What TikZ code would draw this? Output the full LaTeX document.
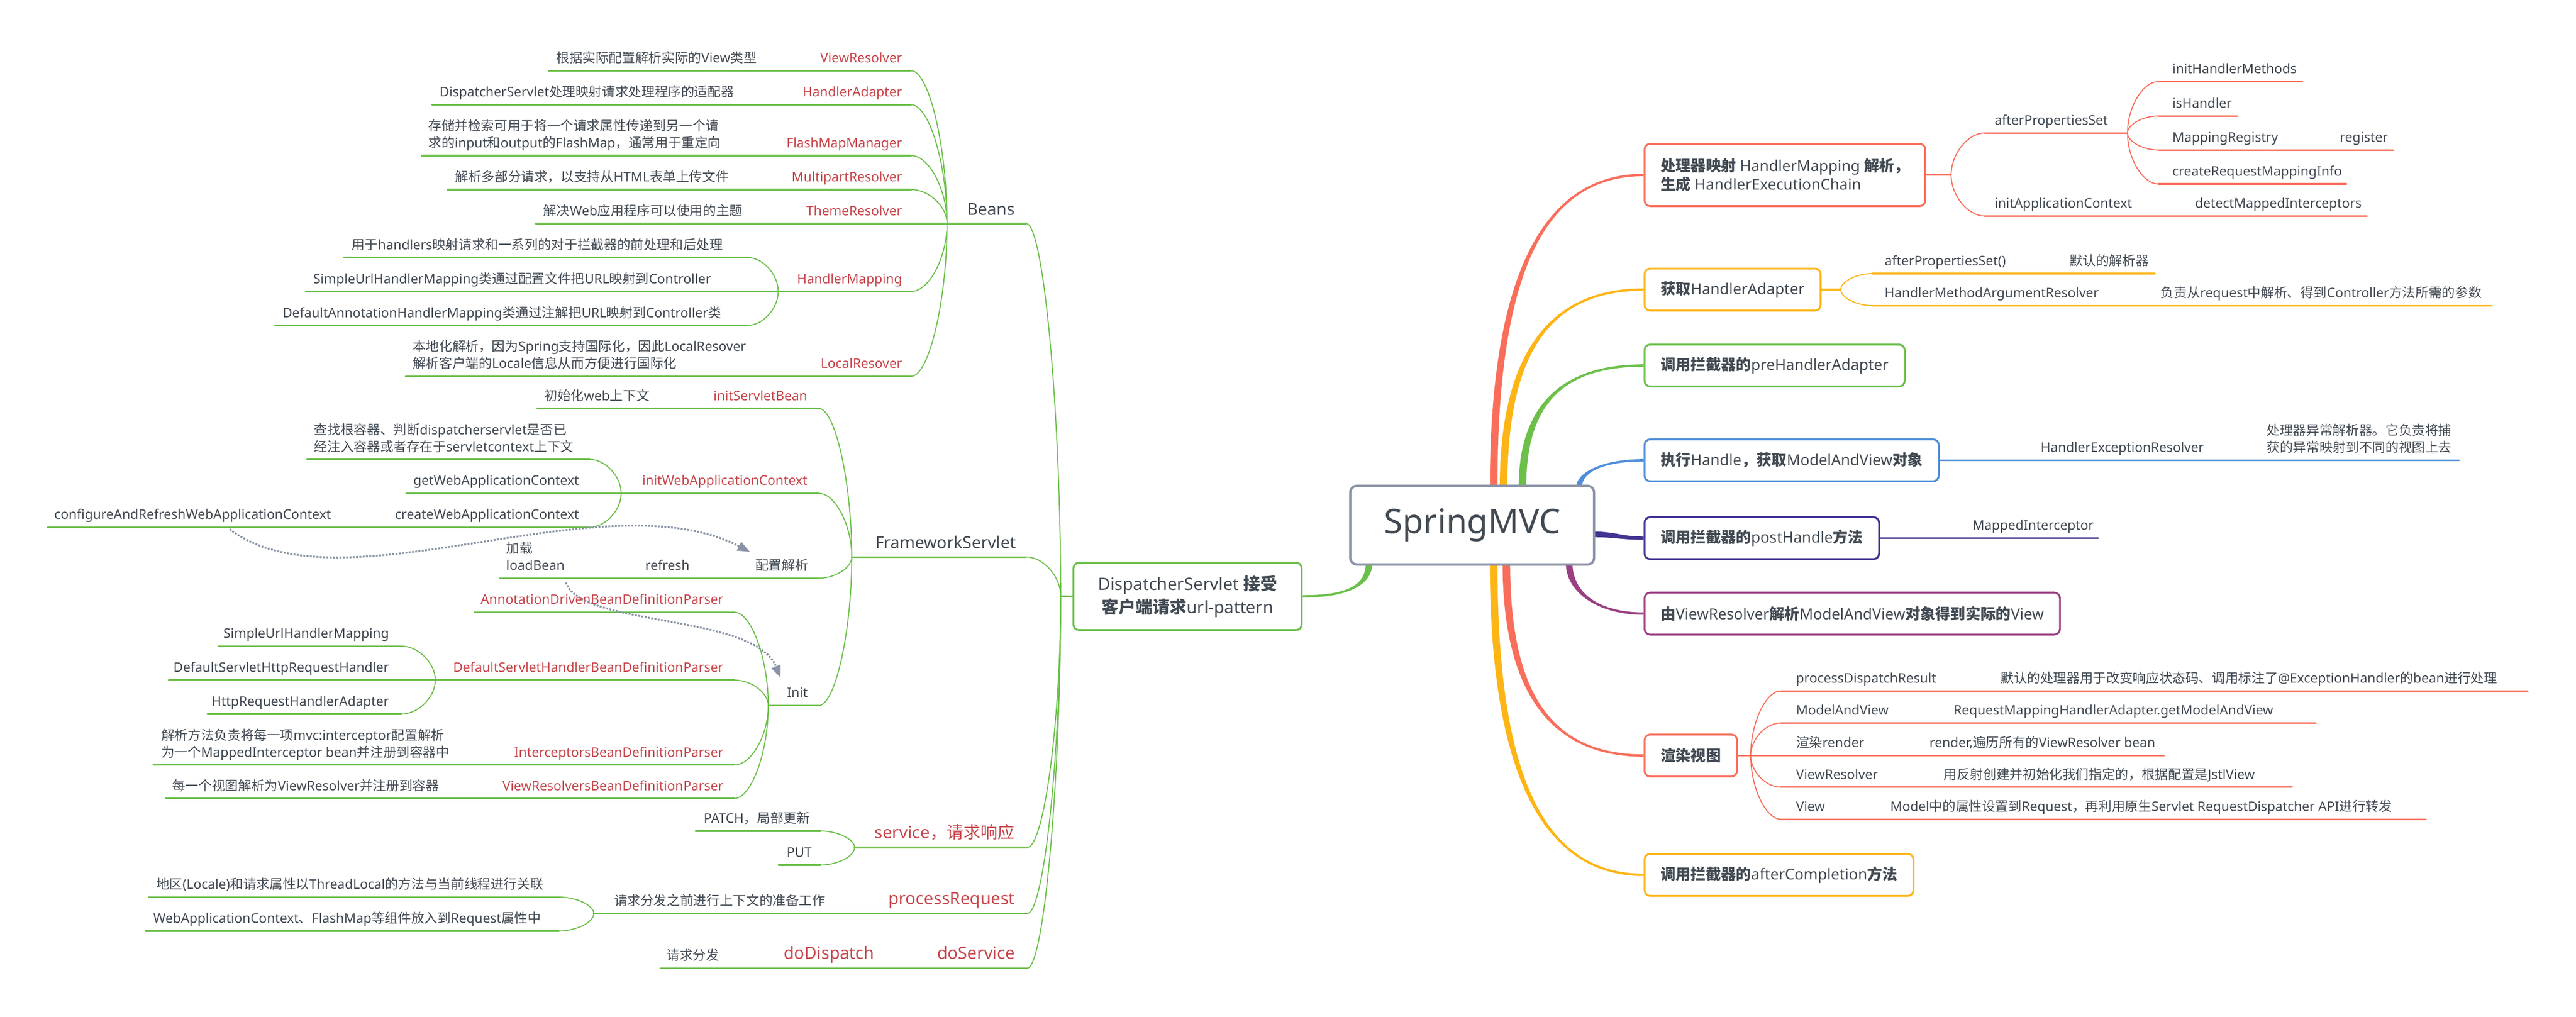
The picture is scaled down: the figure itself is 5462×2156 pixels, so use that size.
\documentclass[tikz,border=0pt]{standalone}
\usepackage{fontspec}
\setmainfont{Noto Sans}[BoldFont={Noto Sans}]
\newfontfamily\cjkfont{Noto Sans CJK SC}[NFSSFamily=zhcjk]
\usetikzlibrary{calc,arrows.meta,backgrounds}
\XeTeXinterchartokenstate=1
\newXeTeXintercharclass\cjkcls
\makeatletter
\newcommand\setcjkrange[2]{\count@=#1\relax
  \loop\XeTeXcharclass\count@=\cjkcls\relax
  \ifnum\count@<#2\relax\advance\count@\@ne\repeat}
\setcjkrange{"3000}{"303F}
\setcjkrange{"4E00}{"9FFF}
\setcjkrange{"FF00}{"FFEF}
\makeatother
\XeTeXinterchartoks 0 \cjkcls={\fontfamily{zhcjk}\selectfont}
\XeTeXinterchartoks 4095 \cjkcls={\fontfamily{zhcjk}\selectfont}
\XeTeXinterchartoks \cjkcls 0={\fontfamily{\familydefault}\selectfont}
\XeTeXinterchartoks \cjkcls 4095={\fontfamily{\familydefault}\selectfont}
\definecolor{gr}{HTML}{6CC04A}
\definecolor{rd}{HTML}{F96E5B}
\definecolor{yl}{HTML}{FDB515}
\definecolor{bl}{HTML}{4E8ED9}
\definecolor{nv}{HTML}{433493}
\definecolor{pu}{HTML}{9A3F82}
\definecolor{gy}{HTML}{8A94A6}
\definecolor{tx}{HTML}{424A53}
\definecolor{rt}{HTML}{C8474D}
\newcommand\fs{\fontsize{28}{36}\selectfont}
\newcommand\fbg{\fontsize{36}{44}\selectfont}
\newcommand\fmd{\fontsize{35}{44}\selectfont}
\newcommand\fbx{\fontsize{32}{40}\selectfont\bfseries}
\newcommand\fds{\fontsize{36}{49}\selectfont\bfseries}
\newcommand\fhg{\fontsize{72}{86}\selectfont}
\newcommand\twol[2]{\vtop{\hbox{#1}\hbox{#2}}}
\newcommand\curvk[5][]{\draw[#1] (#2) .. controls ($(#2)!#4!(#2 |- #3)$) and ($(#3)!#5!(#2 |- #3)$) .. (#3);}
% tapered main branch: [colour]{start (vertical tangent)}{end (horizontal tangent)}{k1}{k2}{half width at start}{signed half width at end}
\newcommand\taper[7][]{\fill[#1] ($(#2)-(#6,0)$) .. controls ($(#2)!#4!(#2 |- #3)-(#6,0)$) and ($(#3)!#5!(#2 |- #3)-(0,#7)$) .. ($(#3)-(0,#7)$) -- ($(#3)+(0,#7)$) .. controls ($(#3)!#5!(#2 |- #3)+(0,#7)$) and ($(#2)!#4!(#2 |- #3)+(#6,0)$) .. ($(#2)+(#6,0)$) -- cycle;}
\newcommand\lbr[5]{\coordinate (#1L) at (#3,#2);\coordinate (#1R) at (#4,#2);\draw[ul] (#1L) -- (#1R);\curvk[cv]{#5}{#1R}{0.5}{0.5}}
\newcommand\rbr[5]{\coordinate (#1L) at (#3,#2);\coordinate (#1R) at (#4,#2);\draw[ul] (#1L) -- (#1R);\curvk[cv]{#5}{#1L}{0.5}{0.5}}
\tikzset{
  ul/.style={line width=3.5pt, line cap=round},
  cv/.style={line width=2.2pt},
  lbl/.style={inner sep=0pt, text=tx, font=\fs},
  rl/.style={inner sep=0pt, text=rt, font=\fs},
  rlb/.style={inner sep=0pt, text=rt, font=\fbg},
  lv1/.style={inner sep=0pt, text=tx, font=\fmd},
  rbox/.style={draw=#1, line width=4pt, rounded corners=12pt, fill=white, inner xsep=34pt, inner ysep=0pt, minimum height=89pt, anchor=west, text=tx, font=\fbx},
  dsh/.style={draw=gy, line width=4pt, dash pattern=on 4pt off 3pt, -{Triangle[length=26pt,width=20pt]}}
}
\begin{document}
\begin{tikzpicture}[x=1pt,y=-1pt]
\useasboundingbox (0,0) rectangle (5462,2156);
% ---------------- central nodes ----------------
\node[draw=gy, line width=5pt, rounded corners=14pt, fill=white, minimum width=517pt, minimum height=167pt, inner sep=0pt, text=tx, font=\fhg] (spring) at (3121.5,1113.5) {SpringMVC};
\node[draw=gr, line width=4pt, rounded corners=12pt, fill=white, minimum width=484pt, minimum height=143pt, inner sep=0pt, text=tx, font=\fds, align=center] (ds) at (2518,1264.5) {DispatcherServlet 接受\\客户端请求url-pattern};
% ---------------- right boxes ----------------
\node[rbox=rd, minimum height=132pt] (b1) at (3485,371) {\twol{处理器映射 HandlerMapping 解析，}{生成 HandlerExecutionChain}};
\node[rbox=yl] (b2) at (3485,614) {获取HandlerAdapter};
\node[rbox=gr] (b3) at (3485,775) {调用拦截器的preHandlerAdapter};
\node[rbox=bl] (b4) at (3485,976) {执行Handle，获取ModelAndView对象};
\node[rbox=nv] (b5) at (3485,1141) {调用拦截器的postHandle方法};
\node[rbox=pu] (b6) at (3485,1301) {由ViewResolver解析ModelAndView对象得到实际的View};
\node[rbox=rd] (b7) at (3485,1602) {渲染视图};
\node[rbox=yl] (b8) at (3485,1855) {调用拦截器的afterCompletion方法};
% ---------------- main curves ----------------
\begin{pgfonlayer}{background}
\fill[white] (0,0) rectangle (5462,2156);
\coordinate (sp1) at (3167,1034); \coordinate (sp2) at (3188,1034);
\coordinate (sp3) at (3228,1034); \coordinate (sp4) at (3348,1034);
\coordinate (sp5) at (3376,1133); \coordinate (sp6) at (3327,1193);
\coordinate (sp7) at (3194,1193); \coordinate (sp8) at (3167,1193);
\coordinate (spd) at (2903,1193);
\taper[rd]{sp1}{b1.west}{0.65}{0.7}{8}{2.5}
\taper[yl]{sp2}{b2.west}{0.65}{0.7}{8}{2.5}
\taper[gr]{sp3}{b3.west}{0.65}{0.7}{8}{2.5}
\taper[bl]{sp4}{b4.west}{0.6}{0.6}{6}{2.5}
\fill[nv] ($(sp5)-(0,6)$) .. controls ($(sp5)+(50,-6)$) and ($(b5.west)+(-50,-3.5)$) .. ($(b5.west)-(0,3.5)$) -- ($(b5.west)+(0,3.5)$) .. controls ($(b5.west)+(-50,3.5)$) and ($(sp5)+(50,6)$) .. ($(sp5)+(0,6)$) -- cycle;
\taper[pu]{sp6}{b6.west}{0.6}{0.6}{7}{-2.5}
\taper[rd]{sp7}{b7.west}{0.65}{0.7}{8}{-2.5}
\taper[yl]{sp8}{b8.west}{0.65}{0.7}{8}{-2.5}
\taper[gr]{spd}{ds.east}{0.65}{0.7}{7}{2.5}
\end{pgfonlayer}
% ---------------- right branches ----------------
\begin{scope}[color=rd]
\coordinate (h1) at (4137,371);
\draw[ul] (b1.east) -- (h1);
\rbr{aps}{282}{4208}{4511}{h1}
\rbr{ihm}{173}{4576}{4882}{apsR}
\rbr{ish}{246}{4576}{4744}{apsR}
\rbr{mrg}{318}{4576}{5075}{apsR}
\rbr{crm}{390}{4576}{4975}{apsR}
\rbr{iac}{458}{4208}{5019}{h1}
\end{scope}
\begin{scope}[color=yl]
\coordinate (h2) at (3903,614);
\draw[ul] (b2.east) -- (h2);
\rbr{apb}{580}{3970}{4569}{h2}
\rbr{hmr}{648}{3970}{5284}{h2}
\end{scope}
\begin{scope}[color=bl]
\coordinate (b4R) at (5214,976);
\draw[ul] (b4.east) -- (b4R);
\end{scope}
\begin{scope}[color=nv]
\coordinate (b5R) at (4449,1141);
\draw[ul] (b5.east) -- (b5R);
\end{scope}
\begin{scope}[color=rd]
\coordinate (h7) at (3712,1602);
\draw[ul] (b7.east) -- (h7);
\rbr{pdr}{1465}{3776}{5360}{h7}
\rbr{mav}{1533}{3776}{4911}{h7}
\coordinate (rdrR) at (4589,1602);
\draw[ul] (h7) -- (rdrR);
\rbr{vrs}{1669}{3776}{4860}{h7}
\rbr{vw}{1737}{3776}{5144}{h7}
\end{scope}
% ---------------- left branches ----------------
\begin{scope}[color=gr]
\coordinate (dshub) at (2249,1264);
\draw[ul] (ds.west) -- (dshub);
\lbr{be}{474}{2008}{2176}{dshub}
\lbr{fs}{1181}{1806}{2176}{dshub}
\lbr{sv}{1797}{1812}{2178}{dshub}
\lbr{pr}{1937}{1259}{2178}{dshub}
\lbr{dv}{2053}{1400}{2178}{dshub}
\lbr{vr}{150}{1163}{1932}{beL}
\lbr{ha}{222}{916}{1932}{beL}
\lbr{fm}{330}{894}{1932}{beL}
\lbr{mr}{402}{949}{1932}{beL}
\coordinate (trL) at (1136,474); \draw[ul] (trL) -- (beL);
\lbr{hm}{618}{1650}{1932}{beL}
\lbr{hmx}{546}{729}{1585}{hmL}
\coordinate (hmyL) at (648,618); \draw[ul] (hmyL) -- (hmL);
\lbr{hmz}{690}{583}{1585}{hmL}
\lbr{lr}{798}{860}{1932}{beL}
\lbr{isb}{866}{1139}{1736}{fsL}
\lbr{iwa}{1046}{1317}{1736}{fsL}
\coordinate (gwaL) at (861,1046); \draw[ul] (gwaL) -- (iwaL);
\lbr{iwx}{974}{651}{1250}{iwaL}
\lbr{cwa}{1118}{101}{1250}{iwaL}
\lbr{pz}{1226}{1059}{1736}{fsL}
\lbr{ini}{1496}{1629}{1736}{fsL}
\lbr{adp}{1298}{1006}{1557}{iniL}
\lbr{dsp}{1442}{923}{1557}{iniL}
\coordinate (dshL) at (358,1442); \draw[ul] (dshL) -- (dspL);
\lbr{suh}{1370}{463}{851}{dspL}
\lbr{hrh}{1514}{440}{851}{dspL}
\lbr{ibp}{1622}{325}{1557}{iniL}
\lbr{vbp}{1693}{351}{1557}{iniL}
\lbr{pat}{1762}{1475}{1740}{svL}
\lbr{put}{1834}{1651}{1740}{svL}
\lbr{loc}{1902}{315}{1185}{prL}
\lbr{wac}{1974}{309}{1185}{prL}
\end{scope}
% ---------------- left texts ----------------
\node[lv1, anchor=base east] (nBeans) at (2152,456) {Beans};
\node[lv1, anchor=base east] (nFS) at (2154,1163) {FrameworkServlet};
\node[rlb, anchor=base east] (nSv) at (2152,1778) {service，请求响应};
\node[rlb, anchor=base east] (nPr) at (2152,1918) {processRequest};
\node[rlb, anchor=base east] (nDsv) at (2152,2034) {doService};
\node[rlb, anchor=base west] (nDd) at (1662,2034) {doDispatch};
\node[lbl, anchor=base west] (nQf) at (1413,2036) {请求分发};
\node[lbl, anchor=base west] (nPrep) at (1302,1920) {请求分发之前进行上下文的准备工作};
\node[rl, anchor=base east] (nVR) at (1913,133) {ViewResolver};
\node[lbl, anchor=base west] (dVR) at (1179,133) {根据实际配置解析实际的View类型};
\node[rl, anchor=base east] (nHA) at (1913,205) {HandlerAdapter};
\node[lbl, anchor=base west] (dHA) at (932,205) {DispatcherServlet处理映射请求处理程序的适配器};
\node[rl, anchor=base east] (nFM) at (1913,313) {FlashMapManager};
\node[lbl, anchor=base west] (dFM) at (908,277) {\twol{存储并检索可用于将一个请求属性传递到另一个请}{求的input和output的FlashMap，通常用于重定向}};
\node[rl, anchor=base east] (nMR) at (1913,385) {MultipartResolver};
\node[lbl, anchor=base west] (dMR) at (965,385) {解析多部分请求，以支持从HTML表单上传文件};
\node[rl, anchor=base east] (nTR) at (1913,457) {ThemeResolver};
\node[lbl, anchor=base west] (dTR) at (1152,457) {解决Web应用程序可以使用的主题};
\node[rl, anchor=base east] (nHM) at (1913,601) {HandlerMapping};
\node[lbl, anchor=base west] (dHM1) at (745,529) {用于handlers映射请求和一系列的对于拦截器的前处理和后处理};
\node[lbl, anchor=base west] (dHM2) at (664,601) {SimpleUrlHandlerMapping类通过配置文件把URL映射到Controller};
\node[lbl, anchor=base west] (dHM3) at (599,673) {DefaultAnnotationHandlerMapping类通过注解把URL映射到Controller类};
\node[rl, anchor=base east] (nLR) at (1913,781) {LocalResover};
\node[lbl, anchor=base west] (dLR) at (875,745) {\twol{本地化解析，因为Spring支持国际化，因此LocalResover}{解析客户端的Locale信息从而方便进行国际化}};
\node[rl, anchor=base east] (nISB) at (1712,849) {initServletBean};
\node[lbl, anchor=base west] (dISB) at (1154,849) {初始化web上下文};
\node[rl, anchor=base east] (nIWA) at (1712,1029) {initWebApplicationContext};
\node[lbl, anchor=base west] (dIWA) at (666,921) {\twol{查找根容器、判断dispatcherservlet是否已}{经注入容器或者存在于servletcontext上下文}};
\node[lbl, anchor=base east] (nGWA) at (1228,1029) {getWebApplicationContext};
\node[lbl, anchor=base east] (nCWA) at (1228,1101) {createWebApplicationContext};
\node[lbl, anchor=base west] (nCfg) at (115,1101) {configureAndRefreshWebApplicationContext};
\node[lbl, anchor=base east] (nPZ) at (1714,1209) {配置解析};
\node[lbl, anchor=base west] (nRf) at (1368,1209) {refresh};
\node[lbl, anchor=base west] (nLB) at (1073,1173) {\twol{加载}{loadBean}};
\node[lbl, anchor=base east] (nInit) at (1713,1479) {Init};
\node[rl, anchor=base east] (nADP) at (1534,1281) {AnnotationDrivenBeanDefinitionParser};
\node[rl, anchor=base east] (nDSP) at (1534,1425) {DefaultServletHandlerBeanDefinitionParser};
\node[lbl, anchor=base east] (nSUH) at (825,1353) {SimpleUrlHandlerMapping};
\node[lbl, anchor=base east] (nDSH) at (825,1425) {DefaultServletHttpRequestHandler};
\node[lbl, anchor=base east] (nHRH) at (825,1497) {HttpRequestHandlerAdapter};
\node[rl, anchor=base east] (nIBP) at (1534,1605) {InterceptorsBeanDefinitionParser};
\node[lbl, anchor=base west] (dIBP) at (342,1569) {\twol{解析方法负责将每一项mvc:interceptor配置解析}{为一个MappedInterceptor bean并注册到容器中}};
\node[rl, anchor=base east] (nVBP) at (1534,1676) {ViewResolversBeanDefinitionParser};
\node[lbl, anchor=base west] (dVBP) at (365,1676) {每一个视图解析为ViewResolver并注册到容器};
\node[lbl, anchor=base west] (nPat) at (1492,1745) {PATCH，局部更新};
\node[lbl, anchor=base west] (nPut) at (1668,1817) {PUT};
\node[lbl, anchor=base west] (dLoc) at (331,1885) {地区(Locale)和请求属性以ThreadLocal的方法与当前线程进行关联};
\node[lbl, anchor=base west] (dWac) at (325,1957) {WebApplicationContext、FlashMap等组件放入到Request属性中};
% ---------------- dashed arrows ----------------
\coordinate (cfgA) at (487,1122); \coordinate (pzA) at (1590,1170);
\draw[dsh] (cfgA) .. controls (720,1300) and (1280,1010) .. (pzA);
\coordinate (lbA) at (1200,1235); \coordinate (iniA) at (1655,1437);
\draw[dsh] (lbA) .. controls (1230,1330) and (1600,1300) .. (iniA);
% ---------------- right texts ----------------
\node[lbl, anchor=base west] (nAPS) at (4229,265) {afterPropertiesSet};
\node[lbl, anchor=base west] (nIHM) at (4606,156) {initHandlerMethods};
\node[lbl, anchor=base west] (nIsH) at (4606,229) {isHandler};
\node[lbl, anchor=base west] (nMRg) at (4606,301) {MappingRegistry};
\node[lbl, anchor=base west] (nReg) at (4961,301) {register};
\node[lbl, anchor=base west] (nCRM) at (4606,373) {createRequestMappingInfo};
\node[lbl, anchor=base west] (nIAC) at (4229,441) {initApplicationContext};
\node[lbl, anchor=base west] (nDMI) at (4654,441) {detectMappedInterceptors};
\node[lbl, anchor=base west] (nAPB) at (3996,563) {afterPropertiesSet()};
\node[lbl, anchor=base west] (dAPB) at (4388,563) {默认的解析器};
\node[lbl, anchor=base west] (nHMA) at (3996,631) {HandlerMethodArgumentResolver};
\node[lbl, anchor=base west] (dHMA) at (4581,631) {负责从request中解析、得到Controller方法所需的参数};
\node[lbl, anchor=base west] (nHER) at (4327,959) {HandlerExceptionResolver};
\node[lbl, anchor=base west] (dHER) at (4806,923) {\twol{处理器异常解析器。它负责将捕}{获的异常映射到不同的视图上去}};
\node[lbl, anchor=base west] (nMI) at (4182,1124) {MappedInterceptor};
\node[lbl, anchor=base west] (nPDR) at (3808,1448) {processDispatchResult};
\node[lbl, anchor=base west] (dPDR) at (4242,1448) {默认的处理器用于改变响应状态码、调用标注了@ExceptionHandler的bean进行处理};
\node[lbl, anchor=base west] (nMAV) at (3808,1516) {ModelAndView};
\node[lbl, anchor=base west] (dMAV) at (4142,1516) {RequestMappingHandlerAdapter.getModelAndView};
\node[lbl, anchor=base west] (nRdr) at (3808,1585) {渲染render};
\node[lbl, anchor=base west] (dRdr) at (4091,1585) {render,遍历所有的ViewResolver bean};
\node[lbl, anchor=base west] (nVRs) at (3808,1652) {ViewResolver};
\node[lbl, anchor=base west] (dVRs) at (4121,1652) {用反射创建并初始化我们指定的，根据配置是JstlView};
\node[lbl, anchor=base west] (nVw) at (3808,1720) {View};
\node[lbl, anchor=base west] (dVw) at (4008,1720) {Model中的属性设置到Request，再利用原生Servlet RequestDispatcher API进行转发};
\end{tikzpicture}
\end{document}
